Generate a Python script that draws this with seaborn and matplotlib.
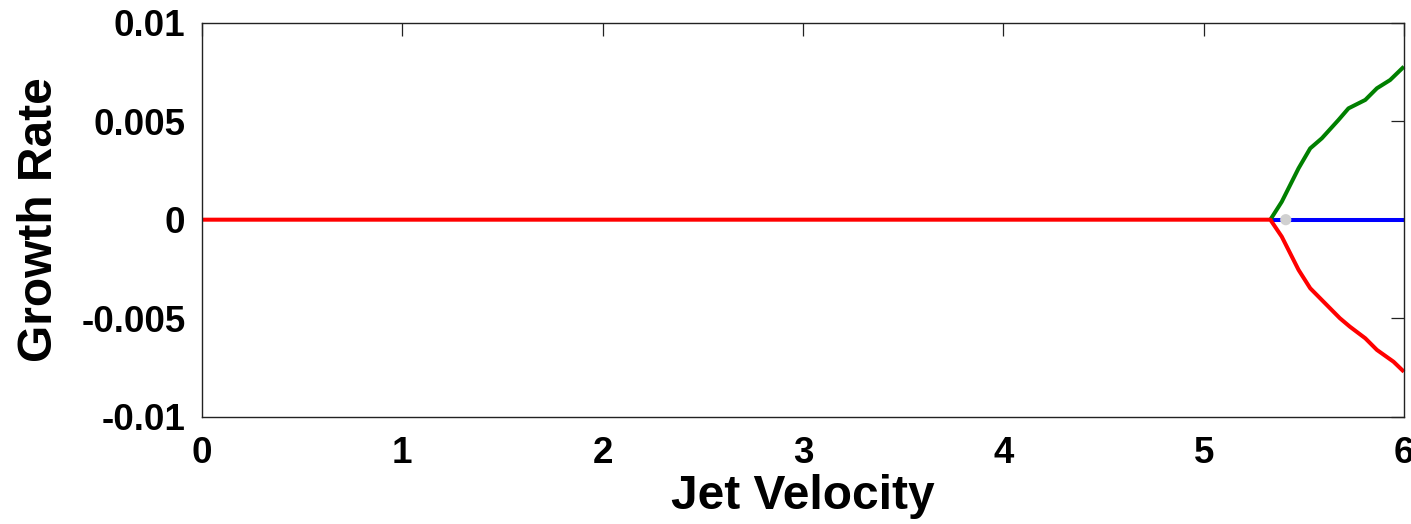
import matplotlib
matplotlib.use("Agg")
import matplotlib.pyplot as plt
import seaborn as sns
import pandas as pd

# Growth-rate branches versus jet velocity
v_stable = [0.0, 5.333]
g_stable = [0.0, 0.0]

v_neutral = [5.333, 6.0]
g_neutral = [0.0, 0.0]

v_growing = [5.333, 5.39, 5.474, 5.532, 5.59, 5.673, 5.723, 5.807, 5.865, 5.931, 6.0]
g_growing = [0.0, 0.00091, 0.00261, 0.00362, 0.00413, 0.00506, 0.00565, 0.00608, 0.00667, 0.00709, 0.00777]

v_decaying = [5.333, 5.39, 5.474, 5.532, 5.68, 5.73, 5.807, 5.865, 5.948, 6.0]
g_decaying = [0.0, -0.00086, -0.00255, -0.00348, -0.0050, -0.00543, -0.00602, -0.00661, -0.00721, -0.00772]

v_point = [5.41]
g_point = [0.0]

x_ticks = [0, 1, 2, 3, 4, 5, 6]
x_ticklabels = ["0", "1", "2", "3", "4", "5", "6"]
y_ticks = [-0.01, -0.005, 0, 0.005, 0.01]
y_ticklabels = ["-0.01", "-0.005", "0", "0.005", "0.01"]

sns.set_theme(style="white")
plt.rcParams["font.family"] = ["Liberation Sans", "DejaVu Sans"]
plt.rcParams["font.weight"] = "bold"

fig = plt.figure(figsize=(14.11, 5.24), dpi=100)
ax = fig.add_axes([0.1432, 0.2048, 0.8518, 0.7519])

lw = 2.9
sns.lineplot(data=pd.DataFrame({"v": v_neutral, "g": g_neutral}), x="v", y="g",
             color="#0000ff", linewidth=lw, ax=ax)
sns.lineplot(data=pd.DataFrame({"v": v_growing, "g": g_growing}), x="v", y="g",
             color="#008000", linewidth=lw, ax=ax)
sns.lineplot(data=pd.DataFrame({"v": v_stable + v_decaying[1:],
                                "g": g_stable + g_decaying[1:]}),
             x="v", y="g", color="#ff0000", linewidth=lw, ax=ax, sort=False)
sns.scatterplot(x=v_point, y=g_point, color="#d0d0d0", s=65, edgecolor="none",
                ax=ax, zorder=5)

for line in ax.lines:
    line.set_clip_on(False)
    line.set_solid_capstyle("butt")

ax.set_xlim(0, 6)
ax.set_ylim(-0.01, 0.01)
ax.set_xticks(x_ticks)
ax.set_xticklabels(x_ticklabels)
ax.set_yticks(y_ticks)
ax.set_yticklabels(y_ticklabels)

ax.tick_params(axis="both", which="major", direction="in", length=9.5, width=0.9,
               color="#222222", labelsize=26.5, top=True, right=True, pad=12)
ax.tick_params(axis="x", pad=14)
for lab in ax.get_xticklabels() + ax.get_yticklabels():
    lab.set_fontweight("bold")
    lab.set_color("black")

for sp in ax.spines.values():
    sp.set_visible(True)
    sp.set_color("#222222")
    sp.set_linewidth(1.0)

ax.set_xlabel("Jet Velocity", fontsize=34.5, fontweight="bold", color="black", labelpad=2)
ax.set_ylabel("Growth Rate", fontsize=34.5, fontweight="bold", color="black", labelpad=14)

fig.savefig("out.png", dpi=100, facecolor="white")
